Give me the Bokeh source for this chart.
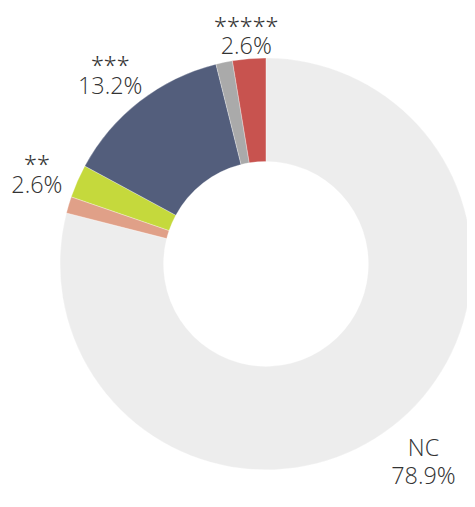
import math
from bokeh.plotting import figure
from bokeh.models import Range1d, ColumnDataSource
from bokeh.core.properties import value
from bokeh.embed import file_html
from bokeh.resources import INLINE

# ---- data ----
categories = ["NC", "*", "**", "***", "****", "*****"]
percents = [78.9, 1.3, 2.6, 13.2, 1.3, 2.6]
show_label = [True, False, True, True, False, True]
colors = ["#ededed", "#e0a088", "#c5d93c", "#535e7c", "#aaaaaa", "#c8534f"]

# ---- layout (designed on a 475x507 grid, mapped onto the canvas) ----
W, H = 467, 491
REF_W, REF_H = 475, 507
SX, SY = W / REF_W, H / REF_H
S = (SX + SY) / 2

def cx(x):
    return x * SX

def cy(y):  # screen y (down) -> data y (up)
    return H - y * SY

REF_CX, REF_CY = 270, 272
R_OUT, R_IN = 211 * S, 105 * S
LABEL_GAP = 224          # distance from centre to nearest edge of a label box
FS = 24                  # font size on the design grid
LINE = 29                # baseline-to-baseline distance
STAR_SHIFT = 8.5         # asterisk glyphs sit high in this font
MAX_BASELINE = 490       # keep the lowest text line inside the canvas
CHAR_EM = {"*": 0.55, ".": 0.25, "%": 0.82, "N": 0.72, "C": 0.63}

def text_w(t):
    return sum(CHAR_EM.get(ch, 0.55) for ch in t) * FS * 0.95

total = sum(percents)
starts, ends, mids = [], [], []
acc = 0.0
for v in percents:
    f0 = acc / total
    acc += v
    f1 = acc / total
    starts.append(math.pi / 2 - 2 * math.pi * f0)
    ends.append(math.pi / 2 - 2 * math.pi * f1)
    mids.append(math.pi * (f0 + f1))  # clockwise from top

src = ColumnDataSource(dict(cat=categories, start=starts, end=ends, color=colors))

p = figure(width=W, height=H, x_range=Range1d(0, W), y_range=Range1d(0, H),
           output_backend="svg", toolbar_location=None, min_border=0,
           x_axis_type=None, y_axis_type=None)
p.grid.visible = False
p.outline_line_color = None
p.background_fill_color = "white"
p.border_fill_color = "white"

p.annular_wedge(x=cx(REF_CX), y=cy(REF_CY), inner_radius=R_IN, outer_radius=R_OUT,
                start_angle="start", end_angle="end", direction="clock",
                fill_color="color", line_color="white", line_width=0.3, source=src)

name_x, name_y, name_t = [], [], []
pct_x, pct_y, pct_t = [], [], []
for cat, v, show, th in zip(categories, percents, show_label, mids):
    if not show:
        continue
    pct = f"{v:.1f}%"
    is_star = set(cat) == {"*"}
    ux, uy = math.sin(th), -math.cos(th)
    half_w = max(text_w(cat), text_w(pct)) / 2
    h = LINE + (9.5 if is_star else 17)
    support = half_w * abs(ux) + h / 2 * abs(uy)
    bx = REF_CX + (LABEL_GAP + support) * ux
    by = REF_CY + (LABEL_GAP + support) * uy
    pct_base = min(by + h / 2, MAX_BASELINE)
    name_base = pct_base - LINE + (STAR_SHIFT if is_star else 0)
    name_x.append(cx(bx)); name_y.append(cy(name_base)); name_t.append(cat)
    pct_x.append(cx(bx)); pct_y.append(cy(pct_base)); pct_t.append(pct)

common = dict(text_font=value("'Open Sans Light', 'Open Sans'"), text_font_size=f"{FS * S:.1f}px",
              text_align="center", text_baseline="alphabetic", text_color="#333333")
p.text(x=name_x, y=name_y, text=name_t, **common)
p.text(x=pct_x, y=pct_y, text=pct_t, **common)

open("out.html", "w").write(file_html(p, INLINE))
